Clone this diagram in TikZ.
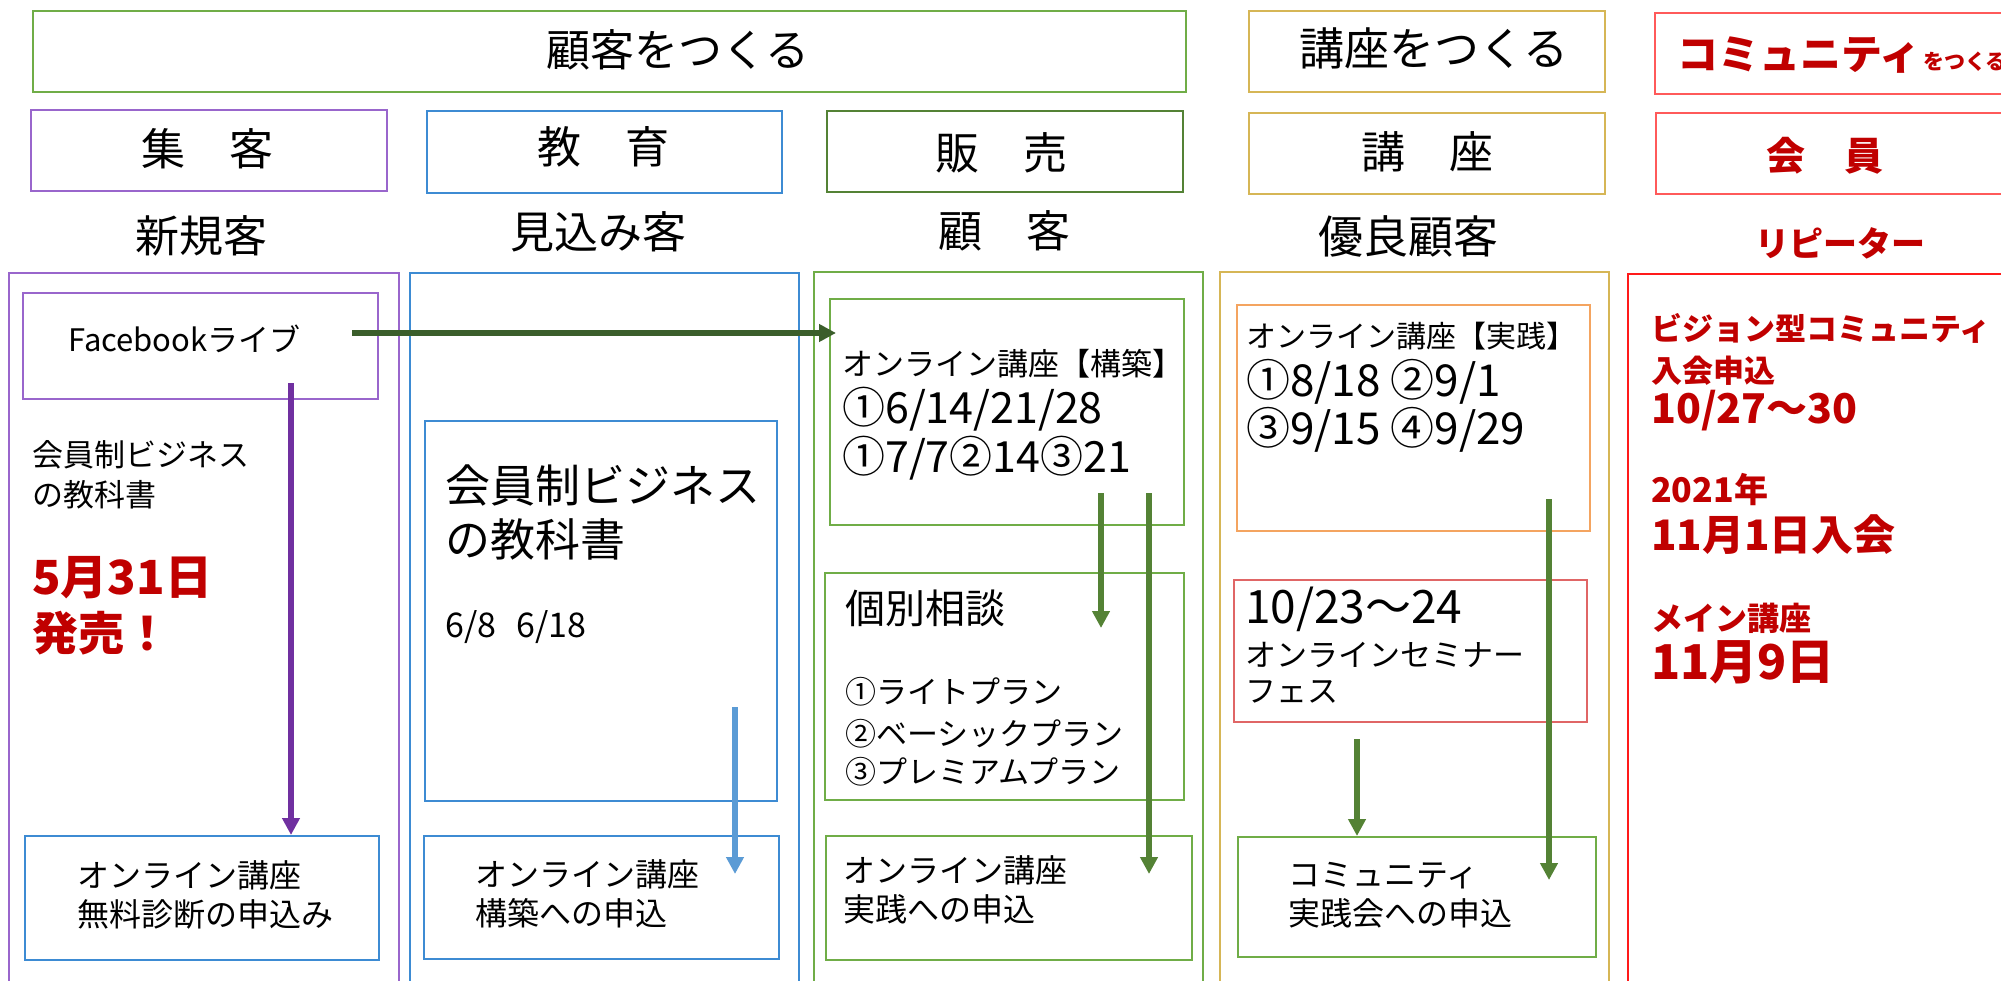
\documentclass[tikz,border=0pt]{standalone}
\usepackage{fontspec}
\setmainfont{Noto Sans CJK JP}
\usetikzlibrary{arrows.meta}
\definecolor{grn}{HTML}{70AD47}
\definecolor{grnd}{HTML}{548235}
\definecolor{grnk}{HTML}{3B5E2B}
\definecolor{pur}{HTML}{9966CC}
\definecolor{purd}{HTML}{7030A0}
\definecolor{blu}{HTML}{3D8BD3}
\definecolor{blua}{HTML}{5B9BD5}
\definecolor{gld}{HTML}{D6B656}
\definecolor{org}{HTML}{F4A460}
\definecolor{redb}{HTML}{FF5A5A}
\definecolor{redc}{HTML}{FF1A1A}
\definecolor{redf}{HTML}{E06666}
\definecolor{redt}{HTML}{C00000}
\newcommand\fs[1]{\fontsize{#1}{#1}\selectfont}
\newcommand\mkbox[6]{\node[bx=#2, minimum width={(#5)-(#3)}, minimum height={(#6)-(#4)}] (#1) at (#3,#4) {};}
\tikzset{
  bx/.style={draw=#1, line width=1.6pt, inner sep=0pt, anchor=north west, fill=none},
  tl/.style={anchor=base west, inner sep=0pt, font=\fs{#1}},
  tc/.style={anchor=base, inner sep=0pt, font=\fs{#1}},
  rb/.style={text=redt, font=\fs{#1}\bfseries},
  arr/.style={draw=#1, line width=5.5pt, -{Triangle[length=17pt,width=17pt]}},
}
\begin{document}
\begin{tikzpicture}[x=1pt,y=-1pt]
\useasboundingbox (0,0) rectangle (2001,981);
\clip (0,0) rectangle (2001,981);
% header row
\mkbox{h1}{grn}{32}{10}{1185}{91}
\mkbox{h2}{gld}{1248}{10}{1604}{91}
\mkbox{h3}{redb}{1654}{12}{2040}{93}
\node[tc=44] (h1t) at (678,67) {顧客をつくる};
\node[tc=45] (h2t) at (1434,66) {講座をつくる};
\node[tl=41, rb=41] (h3t) at (1677,70) {コミュニティ};
\node[tl=21, rb=21] (h3s) at (1923,70) {をつくる};
% second row
\mkbox{r1}{pur}{30}{109}{386}{190}
\mkbox{r2}{blu}{426}{110}{781}{192}
\mkbox{r3}{grnd}{826}{110}{1182}{191}
\mkbox{r4}{gld}{1248}{112}{1604}{193}
\mkbox{r5}{redb}{1655}{112}{2040}{193}
\node[tc=44] (r1t) at (207,166) {集　客};
\node[tc=44] (r2t) at (603,164) {教　育};
\node[tc=44] (r3t) at (1001,170) {販　売};
\node[tc=44] (r4t) at (1427,169) {講　座};
\node[tc=39, rb=39] (r5t) at (1825,171) {会　員};
% third row labels
\node[tc=44] (l1) at (201,253) {新規客};
\node[tc=44] (l2) at (598,249) {見込み客};
\node[tc=44] (l3) at (1004,248) {顧　客};
\node[tc=45] (l4) at (1408,254) {優良顧客};
\node[tc=34, rb=34] (l5) at (1840,257) {リピーター};
% columns
\mkbox{c1}{pur}{8}{272}{398}{1010}
\mkbox{c2}{blu}{409}{272}{798}{1010}
\mkbox{c3}{grn}{813}{271}{1202}{1010}
\mkbox{c4}{gld}{1219}{271}{1608}{1010}
\mkbox{c5}{redc}{1627}{273}{2040}{1010}
% column 1
\mkbox{fb}{pur}{22}{292}{377}{398}
\node[tl=31] (fbt) at (68,352) {Facebookライブ};
\node[tl=31] (p1a) at (32,466) {会員制ビジネス};
\node[tl=31] (p1b) at (32,506) {の教科書};
\node[tl=47, rb=47] (p2a) at (32,594) {5月31日};
\node[tl=46, rb=46] (p2b) at (32,650) {発売！};
\mkbox{b1}{blu}{24}{835}{378}{959}
\node[tl=32] (b1a) at (77,887) {オンライン講座};
\node[tl=32] (b1b) at (77,926) {無料診断の申込み};
% column 2
\mkbox{bk}{blu}{424}{420}{776}{800}
\node[tl=45] (bka) at (445,502) {会員制ビジネス};
\node[tl=45] (bkb) at (445,556) {の教科書};
\node[tl=34] (bkc) at (445,637) {6/8\hspace{20pt}6/18};
\mkbox{b2}{blu}{423}{835}{778}{958}
\node[tl=32] (b2a) at (475,886) {オンライン講座};
\node[tl=32] (b2b) at (475,925) {構築への申込};
% column 3
\mkbox{kc}{grn}{829}{298}{1183}{524}
\node[tl=31] (kca) at (842,375) {オンライン講座【構築】};
\node[tl=43] (kcb) at (842,423) {①6/14/21/28};
\node[tl=43] (kcc) at (842,472) {①7/7②14③21};
\mkbox{kb}{grn}{824}{572}{1183}{799}
\node[tl=40] (kba) at (845,623) {個別相談};
\node[tl=31] (kbb) at (845,703) {①ライトプラン};
\node[tl=31] (kbc) at (845,745) {②ベーシックプラン};
\node[tl=31] (kbd) at (845,783) {③プレミアムプラン};
\mkbox{b3}{grn}{825}{835}{1191}{959}
\node[tl=32] (b3a) at (843,882) {オンライン講座};
\node[tl=32] (b3b) at (843,921) {実践への申込};
% column 4
\mkbox{jp}{org}{1236}{304}{1589}{530}
\node[tl=30] (jpa) at (1246,347) {オンライン講座【実践】};
\node[tl=44] (jpb) at (1246,396) {①8/18 ②9/1};
\node[tl=44] (jpc) at (1246,444) {③9/15 ④9/29};
\mkbox{fes}{redf}{1233}{579}{1586}{721}
\node[tl=46] (fesa) at (1245,623) {10/23〜24};
\node[tl=31] (fesb) at (1245,666) {オンラインセミナー};
\node[tl=31] (fesc) at (1245,702) {フェス};
\mkbox{b4}{grn}{1237}{836}{1595}{956}
\node[tl=32] (b4a) at (1288,886) {コミュニティ};
\node[tl=32] (b4b) at (1288,925) {実践会への申込};
% column 5
\node[tl=31, rb=31] (m1) at (1651,341) {ビジョン型コミュニティ};
\node[tl=31, rb=31] (m2) at (1651,382) {入会申込};
\node[tl=41, rb=41] (m3) at (1651,423) {10/27〜30};
\node[tl=34, rb=34] (m4) at (1651,502) {2021年};
\node[tl=42, rb=42] (m5) at (1651,550) {11月1日入会};
\node[tl=32, rb=32] (m6) at (1651,630) {メイン講座};
\node[tl=48, rb=48] (m7) at (1651,679) {11月9日};
% arrows
\coordinate (a1s) at (352,333);
\coordinate (a1e) at (836,333);
\coordinate (a2s) at (291,383);
\coordinate (a3s) at (735,707);
\coordinate (a3e) at (735,874);
\coordinate (a4s) at (1101,493);
\coordinate (a4e) at (1101,628);
\coordinate (a5s) at (1149,493);
\coordinate (a5e) at (1149,874);
\coordinate (a6s) at (1549,499);
\coordinate (a6e) at (1549,880);
\coordinate (a7s) at (1357,739);
\draw[arr=grnk] (a1s) -- (a1e);
\draw[arr=purd] (a2s) -- (a2s |- b1.north);
\draw[arr=blua] (a3s) -- (a3e);
\draw[arr=grnd] (a4s) -- (a4e);
\draw[arr=grnd] (a5s) -- (a5e);
\draw[arr=grnd] (a6s) -- (a6e);
\draw[arr=grnd] (a7s) -- (a7s |- b4.north);
\end{tikzpicture}
\end{document}
